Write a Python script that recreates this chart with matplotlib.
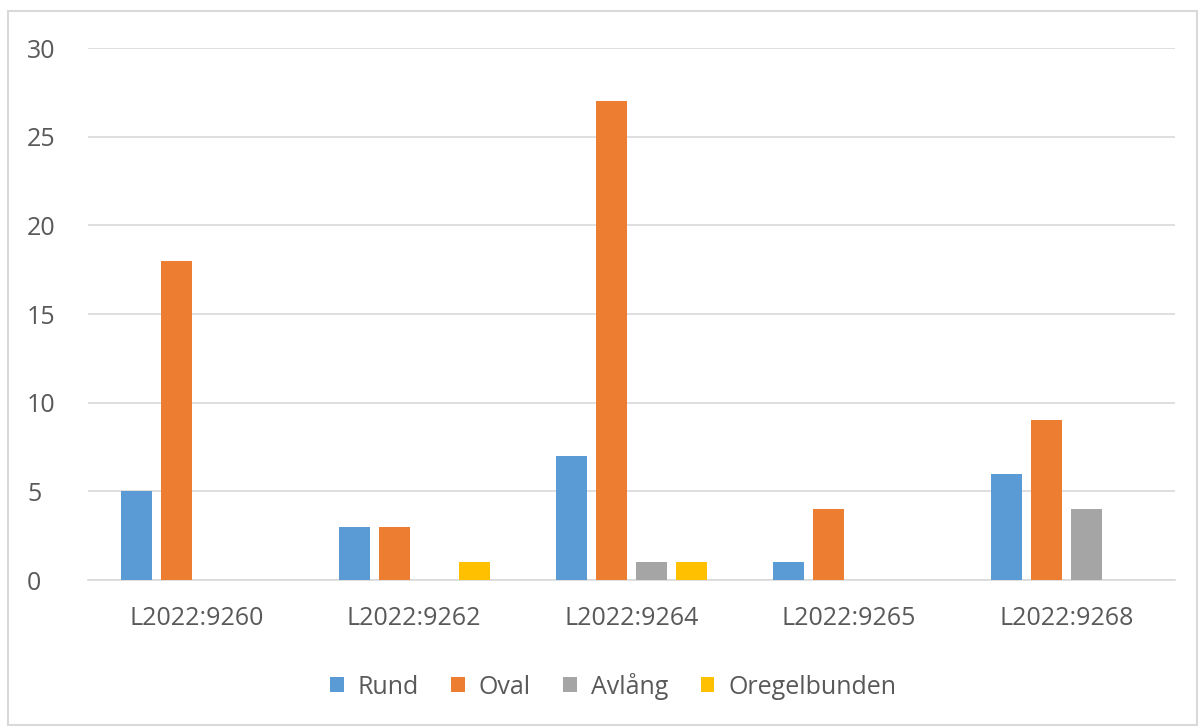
import numpy as np
import matplotlib.pyplot as plt
from matplotlib.patches import Rectangle

# data
categories = ['L2022:9260', 'L2022:9262', 'L2022:9264', 'L2022:9265', 'L2022:9268']
rund = [5, 3, 7, 1, 6]
oval = [18, 3, 27, 4, 9]
avlang = [0, 0, 1, 0, 4]
oregelbunden = [0, 1, 1, 0, 0]

series = [('Rund', rund, '#5B9BD5'),
          ('Oval', oval, '#ED7D31'),
          ('Avlång', avlang, '#A5A5A5'),
          ('Oregelbunden', oregelbunden, '#FFC000')]

plt.rcParams['font.family'] = ['Open Sans', 'DejaVu Sans']
txt = '#595959'
fs = 18

fig = plt.figure(figsize=(11.98, 7.26), dpi=100)
ax = fig.add_axes([88/1198, 1 - 580/726, (1175-88)/1198, (580-48)/726])

x = np.arange(len(categories))
w = 0.143
step = 0.184
for i, (name, vals, col) in enumerate(series):
    ax.bar(x + (i - 1.5) * step, vals, w, color=col, label=name, zorder=3)

ax.set_xlim(-0.5, len(categories) - 0.5)
ax.set_ylim(0, 30)
ax.set_yticks(range(0, 31, 5))
ax.set_xticks(x)
ax.set_xticklabels(categories)
ax.grid(axis='y', color='#D9D9D9', linewidth=1.2, zorder=0)
for s in ['top', 'right', 'left']:
    ax.spines[s].set_visible(False)
ax.spines['bottom'].set_color('#D9D9D9')
ax.spines['bottom'].set_linewidth(1.2)
ax.tick_params(length=0, labelsize=fs, colors=txt)
ax.tick_params(axis='x', pad=19)
ax.tick_params(axis='y', pad=44)
for lab in ax.get_yticklabels():
    lab.set_horizontalalignment('left')

fig.legend(loc='center', bbox_to_anchor=(613/1198, 1 - 686/726), ncol=4,
           frameon=False, fontsize=fs, labelcolor=txt, handlelength=0.55, handleheight=0.55,
           handletextpad=0.55, columnspacing=1.3)

fig.patches.append(Rectangle((8/1198, 1/726), 1189/1198, 1 - 12/726, transform=fig.transFigure,
                             fill=False, edgecolor='#D9D9D9', linewidth=1.5))

fig.savefig('out.png', dpi=100)
